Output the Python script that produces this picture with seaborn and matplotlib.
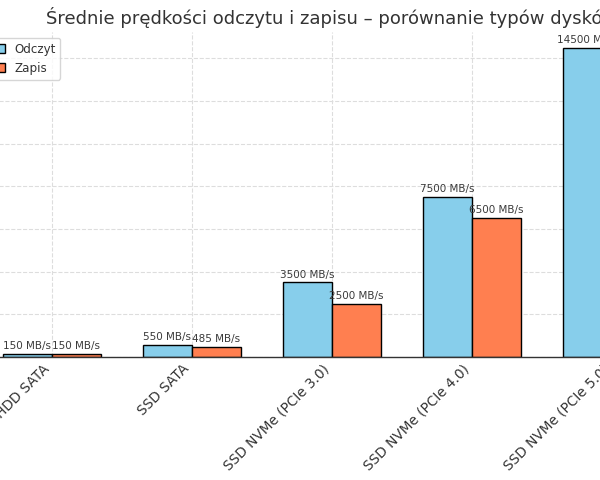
import pandas as pd
import matplotlib.pyplot as plt
import seaborn as sns

# Dane
dyski = ['HDD SATA', 'SSD SATA', 'SSD NVMe (PCIe 3.0)', 'SSD NVMe (PCIe 4.0)', 'SSD NVMe (PCIe 5.0)']
odczyt = [150, 550, 3500, 7500, 14500]
zapis = [150, 485, 2500, 6500, 12500]

df = pd.DataFrame({
    'Dysk': dyski * 2,
    'Prędkość': odczyt + zapis,
    'Typ': ['Odczyt'] * len(dyski) + ['Zapis'] * len(dyski),
})

sns.set_theme(style="whitegrid")
plt.rcParams['font.family'] = ['DejaVu Sans']
plt.rcParams['text.color'] = '#333333'

fig = plt.figure(figsize=(6, 4.8), dpi=100)
# wykres wykadrowany jak w oryginale (osie wychodzą poza obraz)
ax = fig.add_axes([-0.05, 0.25625, 1.2067, 0.677])

sns.barplot(data=df, x='Dysk', y='Prędkość', hue='Typ', palette=['skyblue', 'coral'],
            saturation=1, width=0.7, edgecolor='black', linewidth=1, ax=ax, zorder=2)

for cont in ax.containers:
    ax.bar_label(cont, fmt='%d MB/s', padding=2, fontsize=7.5, color='#3a3a3a')

ax.set_xlim(-0.585, len(dyski) - 1 + 0.585)
ax.set_ylim(0, max(odczyt) * 1.05)
ax.grid(True, axis='both', linestyle='--', color='#dddddd', linewidth=0.8)
ax.set_axisbelow(True)
ax.set_xlabel('')
ax.set_ylabel('Prędkość (MB/s)')
ax.set_title('Średnie prędkości odczytu i zapisu – porównanie typów dysków', fontsize=13, color='#333333')
ax.set_xticks(range(len(dyski)))
ax.set_xticklabels(dyski, rotation=45, ha='right', fontsize=9.8, color='#333333')
ax.tick_params(axis='both', length=0)
for s in ['top', 'right', 'left']:
    ax.spines[s].set_visible(False)
ax.spines['bottom'].set_color('#333333')
ax.spines['bottom'].set_linewidth(1)

ax.legend(title=None, loc='upper left', fontsize=8.6, frameon=True)

plt.savefig('out.png', dpi=100)
